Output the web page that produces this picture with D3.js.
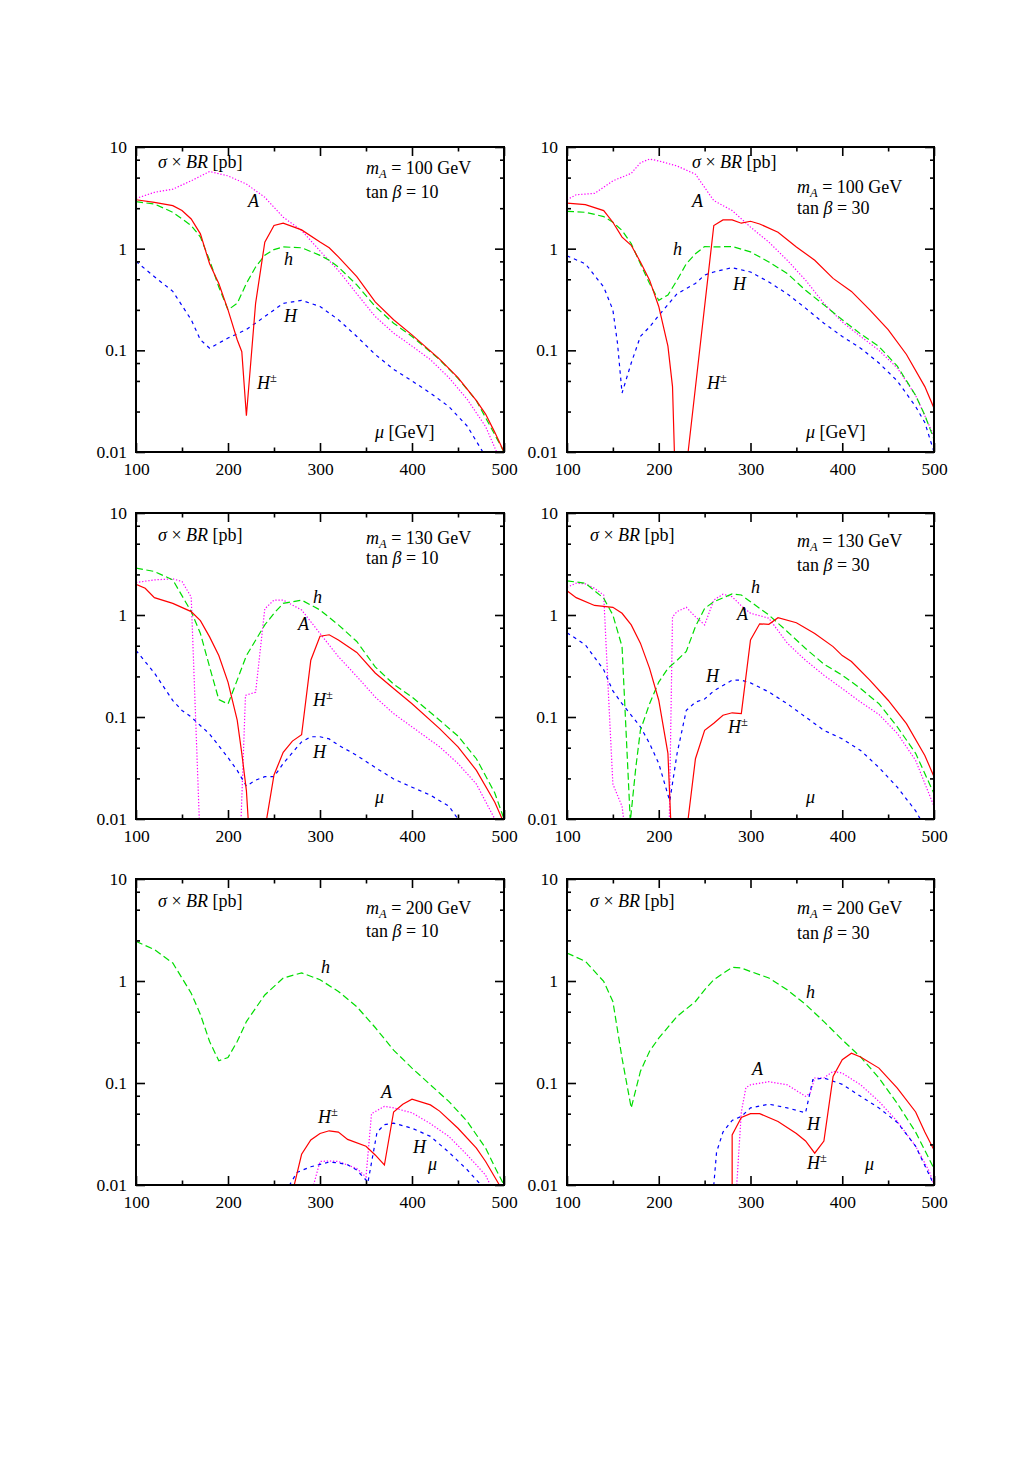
<!DOCTYPE html>
<html><head><meta charset="utf-8">
<script src="https://cdn.jsdelivr.net/npm/d3@7"></script>
<style>
body{margin:0;background:#fff}
svg{display:block}
text{font-family:"Liberation Serif","DejaVu Serif",serif;fill:#000}
</style>
</head><body><svg id="c" width="1035" height="1463"></svg>
<script>
// ---------- tick values ----------
const xTickValues = [100, 200, 300, 400, 500];
const xMinorValues = [150, 250, 350, 450];
const yTickValues = [0.01, 0.1, 1, 10];
const yTickLabels = ["0.01", "0.1", "1", "10"];
const yMinorValues = [0.025, 0.05, 0.075, 0.25, 0.5, 0.75, 2.5, 5, 7.5];
const seriesNames = ["H±", "h", "A", "H"];

// ---------- panel 1: mA = 100 GeV, tanβ = 10 ----------
const p1_Hpm = [[100,3.03],[120,2.85],[140,2.65],[150,2.37],[160,1.96],[170,1.40],[180,0.71],[190,0.455],[200,0.25],[210,0.127],[215,0.097],[220,0.0227],[230,0.29],[240,1.16],[250,1.69],[260,1.78],[280,1.53],[300,1.16],[310,1.02],[320,0.83],[340,0.53],[360,0.30],[380,0.20],[400,0.142],[430,0.082],[450,0.054],[470,0.032],[480,0.0236],[490,0.0156],[500,0.01]];
const p1_h = [[100,2.9],[120,2.75],[140,2.28],[160,1.69],[170,1.30],[180,0.77],[190,0.42],[200,0.25],[210,0.29],[220,0.455],[230,0.66],[240,0.86],[250,0.98],[260,1.04],[280,1.02],[300,0.86],[310,0.77],[320,0.66],[340,0.44],[360,0.27],[380,0.185],[400,0.137],[430,0.081],[450,0.053],[470,0.032],[490,0.0148],[500,0.01]];
const p1_A = [[100,3.12],[120,3.58],[140,3.85],[160,4.65],[180,5.74],[200,5.2],[220,4.32],[240,3.2],[260,2.04],[280,1.51],[300,0.95],[320,0.61],[340,0.36],[360,0.215],[380,0.148],[400,0.11],[420,0.081],[440,0.054],[460,0.033],[480,0.0178],[492,0.01]];
const p1_H = [[100,0.75],[120,0.53],[140,0.38],[160,0.20],[170,0.127],[180,0.105],[200,0.132],[220,0.16],[240,0.215],[260,0.29],[280,0.31],[300,0.27],[320,0.20],[340,0.137],[360,0.091],[380,0.065],[400,0.05],[420,0.038],[440,0.028],[460,0.018],[477,0.01]];

// ---------- panel 2: mA = 100 GeV, tanβ = 30 ----------
const p2_Hpm = [[100,2.81],[120,2.71],[140,2.37],[150,1.82],[160,1.30],[170,1.08],[180,0.74],[190,0.49],[200,0.27],[210,0.11],[215,0.044],[218,0.005],[231,0.005],[232,0.01],[260,1.69],[270,1.92],[280,1.92],[290,1.78],[300,1.86],[310,1.75],[330,1.45],[350,1.04],[370,0.77],[390,0.51],[410,0.38],[430,0.25],[450,0.16],[470,0.091],[490,0.044],[500,0.027]];
const p2_h = [[100,2.33],[120,2.28],[140,2.07],[150,1.82],[160,1.51],[170,1.12],[180,0.71],[190,0.455],[200,0.31],[210,0.35],[220,0.49],[230,0.71],[240,0.89],[250,1.05],[260,1.04],[280,1.05],[300,0.93],[320,0.74],[340,0.57],[360,0.39],[380,0.28],[400,0.20],[420,0.145],[440,0.109],[460,0.07],[480,0.036],[490,0.023],[500,0.0133]];
const p2_A = [[100,3.03],[110,3.39],[130,3.5],[150,4.65],[170,5.5],[180,7.0],[190,7.6],[200,7.3],[220,6.5],[240,5.4],[250,4.0],[260,2.97],[280,2.37],[300,1.63],[320,1.16],[340,0.77],[360,0.49],[380,0.29],[400,0.19],[420,0.137],[440,0.10],[460,0.067],[480,0.036],[500,0.0143]];
const p2_H = [[100,0.85],[120,0.71],[140,0.42],[150,0.25],[155,0.118],[160,0.038],[170,0.075],[180,0.137],[190,0.17],[200,0.22],[220,0.36],[240,0.455],[250,0.55],[260,0.59],[280,0.65],[300,0.59],[320,0.47],[340,0.36],[360,0.26],[380,0.185],[400,0.137],[420,0.105],[440,0.075],[460,0.05],[480,0.028],[490,0.0195],[500,0.01]];

// ---------- panel 3: mA = 130 GeV, tanβ = 10 ----------
const p3_Hpm = [[100,2.0],[110,1.83],[120,1.48],[140,1.30],[160,1.08],[170,0.88],[180,0.61],[190,0.40],[200,0.22],[210,0.093],[215,0.044],[220,0.019],[224,0.005],[241,0.005],[242,0.01],[250,0.027],[260,0.045],[270,0.058],[280,0.067],[290,0.36],[300,0.62],[310,0.64],[320,0.57],[340,0.43],[360,0.27],[380,0.19],[400,0.135],[430,0.077],[450,0.051],[470,0.030],[490,0.0146],[498,0.01]];
const p3_h = [[100,2.88],[120,2.67],[140,2.21],[160,1.08],[170,0.66],[180,0.31],[190,0.148],[200,0.134],[210,0.23],[220,0.40],[240,0.80],[250,1.04],[260,1.30],[280,1.40],[300,1.12],[320,0.80],[340,0.55],[360,0.31],[380,0.21],[400,0.157],[430,0.093],[450,0.065],[470,0.039],[490,0.018],[500,0.01]];
const p3_A = [[100,2.08],[120,2.21],[140,2.26],[150,2.13],[160,1.5],[170,0.005],[213,0.005],[219,0.163],[230,0.175],[240,1.15],[250,1.40],[260,1.40],[280,1.12],[300,0.66],[320,0.39],[340,0.25],[360,0.157],[380,0.108],[400,0.08],[430,0.051],[450,0.035],[470,0.022],[490,0.01]];
const p3_H = [[100,0.45],[120,0.27],[140,0.145],[150,0.116],[160,0.1],[180,0.068],[200,0.040],[210,0.030],[220,0.021],[230,0.024],[240,0.026],[250,0.026],[260,0.035],[280,0.057],[290,0.064],[300,0.064],[310,0.061],[320,0.053],[340,0.042],[360,0.032],[380,0.0247],[400,0.0205],[420,0.0171],[440,0.0134],[450,0.01]];

// ---------- panel 4: mA = 130 GeV, tanβ = 30 ----------
const p4_Hpm = [[100,1.73],[110,1.48],[130,1.24],[150,1.19],[160,1.04],[170,0.80],[180,0.53],[190,0.30],[200,0.146],[210,0.044],[213,0.01],[214,0.005],[231,0.005],[232,0.01],[240,0.039],[250,0.074],[260,0.087],[270,0.104],[280,0.110],[290,0.108],[300,0.57],[310,0.82],[320,0.81],[330,0.94],[350,0.84],[370,0.66],[390,0.49],[400,0.40],[410,0.35],[430,0.23],[450,0.146],[470,0.086],[490,0.042],[500,0.026]];
const p4_h = [[100,2.16],[120,2.05],[140,1.46],[150,1.0],[160,0.49],[169,0.0095],[175,0.032],[180,0.074],[190,0.135],[200,0.22],[210,0.30],[220,0.36],[230,0.44],[240,0.77],[250,1.16],[260,1.35],[280,1.61],[290,1.57],[300,1.35],[320,1.0],[340,0.69],[360,0.47],[380,0.33],[400,0.257],[420,0.19],[440,0.135],[460,0.08],[480,0.044],[500,0.0177]];
const p4_A = [[100,1.87],[110,2.05],[120,2.02],[130,1.83],[140,1.57],[145,0.18],[150,0.022],[160,0.0133],[166,0.005],[211,0.005],[215,0.96],[220,1.08],[230,1.19],[240,0.96],[250,0.80],[260,1.40],[270,1.6],[280,1.51],[290,1.23],[300,1.04],[320,0.93],[340,0.53],[360,0.36],[380,0.257],[400,0.19],[420,0.14],[440,0.106],[460,0.069],[480,0.0375],[500,0.0133]];
const p4_H = [[100,0.67],[120,0.51],[140,0.29],[150,0.18],[160,0.135],[180,0.08],[190,0.055],[200,0.035],[212,0.015],[220,0.044],[230,0.116],[240,0.14],[250,0.15],[260,0.18],[280,0.23],[290,0.23],[300,0.216],[320,0.176],[340,0.135],[360,0.1],[380,0.074],[400,0.061],[420,0.047],[440,0.032],[460,0.0205],[480,0.012],[485,0.01]];

// ---------- panel 5: mA = 200 GeV, tanβ = 10 ----------
const p5_Hpm = [[270,0.005],[272,0.01],[280,0.020],[290,0.0276],[300,0.032],[310,0.034],[320,0.033],[330,0.028],[350,0.024],[360,0.0197],[370,0.0157],[380,0.052],[390,0.062],[400,0.0694],[420,0.061],[430,0.053],[450,0.036],[470,0.023],[480,0.017],[495,0.01]];
const p5_h = [[100,2.45],[120,2.03],[140,1.50],[160,0.76],[170,0.47],[180,0.255],[190,0.165],[200,0.178],[210,0.255],[220,0.40],[240,0.73],[260,1.07],[280,1.20],[300,1.03],[320,0.79],[340,0.56],[360,0.35],[380,0.21],[400,0.14],[420,0.096],[440,0.066],[460,0.042],[480,0.023],[490,0.015],[500,0.01]];
const p5_A = [[290,0.005],[293,0.01],[300,0.017],[310,0.0172],[320,0.017],[340,0.0145],[350,0.012],[356,0.05],[370,0.059],[380,0.057],[400,0.051],[420,0.040],[440,0.030],[460,0.0197],[480,0.0125],[485,0.01]];
const p5_H = [[265,0.005],[267,0.01],[275,0.0133],[290,0.0151],[300,0.0159],[310,0.0168],[320,0.0165],[330,0.0158],[340,0.014],[350,0.0112],[352,0.0105],[362,0.033],[370,0.039],[380,0.0404],[400,0.036],[420,0.030],[440,0.021],[460,0.0141],[475,0.01]];

// ---------- panel 6: mA = 200 GeV, tanβ = 30 ----------
const p6_Hpm = [[280,0.005],[280,0.031],[290,0.046],[300,0.050],[310,0.050],[330,0.042],[350,0.032],[360,0.027],[370,0.0205],[380,0.027],[390,0.116],[400,0.169],[410,0.196],[420,0.18],[440,0.14],[460,0.089],[480,0.052],[490,0.033],[500,0.022]];
const p6_h = [[100,1.88],[120,1.56],[140,0.99],[150,0.63],[160,0.175],[170,0.057],[180,0.13],[190,0.205],[200,0.275],[220,0.45],[240,0.63],[250,0.82],[260,1.03],[280,1.36],[290,1.34],[300,1.24],[320,1.07],[340,0.82],[360,0.59],[380,0.40],[400,0.265],[420,0.18],[440,0.112],[460,0.063],[480,0.033],[500,0.0145]];
const p6_A = [[283,0.005],[285,0.01],[290,0.052],[295,0.09],[300,0.096],[320,0.103],[340,0.096],[360,0.074],[365,0.08],[370,0.112],[380,0.112],[390,0.13],[400,0.125],[420,0.096],[440,0.066],[460,0.042],[480,0.024],[495,0.0135],[500,0.01]];
const p6_H = [[258,0.005],[260,0.01],[263,0.021],[270,0.033],[280,0.043],[290,0.047],[300,0.057],[320,0.062],[340,0.057],[360,0.051],[368,0.108],[380,0.112],[400,0.097],[420,0.074],[440,0.057],[460,0.041],[480,0.024],[500,0.01]];

// ---------- panel annotations ----------
const mAValues = [100, 100, 130, 130, 200, 200];
const tanbValues = [10, 30, 10, 30, 10, 30];

// ---------- layout ----------
const colX = [[136, 504], [567, 934]];
const rowY = [[147, 452], [513, 819], [879, 1185]];
const styles = {
  "H±": {color: "#ff0000", dash: null},
  "h":  {color: "#00dd00", dash: "7,3.5"},
  "A":  {color: "#ff00ff", dash: "1.3,1.8"},
  "H":  {color: "#0000ff", dash: "3.5,4"}
};
const panelSeries = [
  {"H±": p1_Hpm, "h": p1_h, "A": p1_A, "H": p1_H},
  {"H±": p2_Hpm, "h": p2_h, "A": p2_A, "H": p2_H},
  {"H±": p3_Hpm, "h": p3_h, "A": p3_A, "H": p3_H},
  {"H±": p4_Hpm, "h": p4_h, "A": p4_A, "H": p4_H},
  {"H±": p5_Hpm, "h": p5_h, "A": p5_A, "H": p5_H},
  {"H±": p6_Hpm, "h": p6_h, "A": p6_A, "H": p6_H}
];
// label positions (absolute px)
const labelPos = [
  {sig:[158,168], mA:[366,174], tb:[366,198], A:[248,207], h:[284,265], H:[284,322], Hpm:[257,389], mu:[375,438], muUnit:true},
  {sig:[692,168], mA:[797,193], tb:[797,214], A:[692,207], h:[673,255], H:[733,290], Hpm:[707,389], mu:[806,438], muUnit:true},
  {sig:[158,541], mA:[366,544], tb:[366,564], A:[298,630], h:[313,603], H:[313,758], Hpm:[313,706], mu:[375,803], muUnit:false},
  {sig:[590,541], mA:[797,547], tb:[797,571], A:[737,620], h:[751,593], H:[706,682], Hpm:[728,733], mu:[806,803], muUnit:false},
  {sig:[158,907], mA:[366,914], tb:[366,937], A:[381,1098], h:[321,973], H:[413,1153], Hpm:[318,1123], mu:[428,1170], muUnit:false},
  {sig:[590,907], mA:[797,914], tb:[797,939], A:[752,1075], h:[806,998], H:[807,1130], Hpm:[807,1169], mu:[865,1170], muUnit:false}
];

const FS = 18;      // annotation font size
const TFS = 17.5;   // tick label font size
const FONT = '"Liberation Serif","DejaVu Serif",serif';
const svg = d3.select("#c");
svg.append("rect").attr("width", 1035).attr("height", 1463).attr("fill", "#fff");

panelSeries.forEach((series, i) => {
  const [x0, x1] = colX[i % 2];
  const [y0, y1] = rowY[Math.floor(i / 2)];
  const x = d3.scaleLinear().domain([100, 500]).range([x0, x1]);
  const y = d3.scaleLog().domain([0.01, 10]).range([y1, y0]);
  const g = svg.append("g");

  const cid = "clip" + i;
  svg.append("defs").append("clipPath").attr("id", cid)
    .append("rect").attr("x", x0).attr("y", y0).attr("width", x1 - x0).attr("height", y1 - y0);

  const line = d3.line().x(d => x(d[0])).y(d => y(d[1]));
  const lg = g.append("g").attr("clip-path", `url(#${cid})`);
  ["A", "H", "h", "H±"].forEach(k => {
    lg.append("path").datum(series[k])
      .attr("d", line)
      .attr("fill", "none")
      .attr("stroke", styles[k].color)
      .attr("stroke-width", 1.2)
      .attr("stroke-dasharray", styles[k].dash);
  });

  const tickStyle = sel => {
    sel.attr("font-family", FONT).attr("font-size", TFS);
    sel.select(".domain").remove();
    sel.selectAll(".tick line").attr("stroke", "#000").attr("stroke-width", 1.6);
    sel.selectAll("text").attr("font-size", TFS).attr("font-family", FONT).attr("fill", "#000");
  };
  g.append("g").attr("transform", `translate(0,${y1})`)
    .call(d3.axisBottom(x).tickValues(xTickValues).tickSize(-9).tickPadding(11).tickFormat(d3.format("d")))
    .call(tickStyle);
  g.append("g").attr("transform", `translate(0,${y1})`)
    .call(d3.axisBottom(x).tickValues(xMinorValues).tickSize(-4.5).tickFormat(""))
    .call(tickStyle);
  g.append("g").attr("transform", `translate(0,${y0})`)
    .call(d3.axisTop(x).tickValues(xTickValues).tickSize(-9).tickFormat(""))
    .call(tickStyle);
  g.append("g").attr("transform", `translate(0,${y0})`)
    .call(d3.axisTop(x).tickValues(xMinorValues).tickSize(-4.5).tickFormat(""))
    .call(tickStyle);
  g.append("g").attr("transform", `translate(${x0},0)`)
    .call(d3.axisLeft(y).tickValues(yTickValues).tickSize(-9).tickPadding(9)
      .tickFormat((d, j) => yTickLabels[j]))
    .call(tickStyle);
  g.append("g").attr("transform", `translate(${x0},0)`)
    .call(d3.axisLeft(y).tickValues(yMinorValues).tickSize(-4).tickFormat(""))
    .call(tickStyle);
  g.append("g").attr("transform", `translate(${x1},0)`)
    .call(d3.axisRight(y).tickValues(yTickValues).tickSize(-9).tickFormat(""))
    .call(tickStyle);
  g.append("g").attr("transform", `translate(${x1},0)`)
    .call(d3.axisRight(y).tickValues(yMinorValues).tickSize(-4).tickFormat(""))
    .call(tickStyle);

  g.append("rect").attr("x", x0).attr("y", y0).attr("width", x1 - x0).attr("height", y1 - y0)
    .attr("fill", "none").attr("stroke", "#000").attr("stroke-width", 2);

  const L = labelPos[i];
  const tx = (p) => g.append("text").attr("x", p[0]).attr("y", p[1])
    .attr("font-size", FS).attr("font-family", FONT);

  const s = tx(L.sig);
  s.append("tspan").attr("font-style", "italic").text("σ");
  s.append("tspan").text(" × ");
  s.append("tspan").attr("font-style", "italic").text("BR");
  s.append("tspan").text(" [pb]");

  const m = tx(L.mA);
  m.append("tspan").attr("font-style", "italic").text("m");
  m.append("tspan").attr("font-style", "italic").attr("font-size", 12.5).attr("dy", 3.5).text("A");
  m.append("tspan").attr("dy", -3.5).text(" = " + mAValues[i] + " GeV");

  const t = tx(L.tb);
  t.append("tspan").text("tan ");
  t.append("tspan").attr("font-style", "italic").text("β");
  t.append("tspan").text(" = " + tanbValues[i]);

  tx(L.A).attr("font-style", "italic").text("A");
  tx(L.h).attr("font-style", "italic").text("h");
  tx(L.H).attr("font-style", "italic").text("H");
  const hp = tx(L.Hpm);
  hp.append("tspan").attr("font-style", "italic").text("H");
  hp.append("tspan").attr("font-size", 12.5).attr("dy", -7).text("±");

  const mu = tx(L.mu);
  mu.append("tspan").attr("font-style", "italic").text("μ");
  if (L.muUnit) mu.append("tspan").text(" [GeV]");
});
</script>
</body></html>
